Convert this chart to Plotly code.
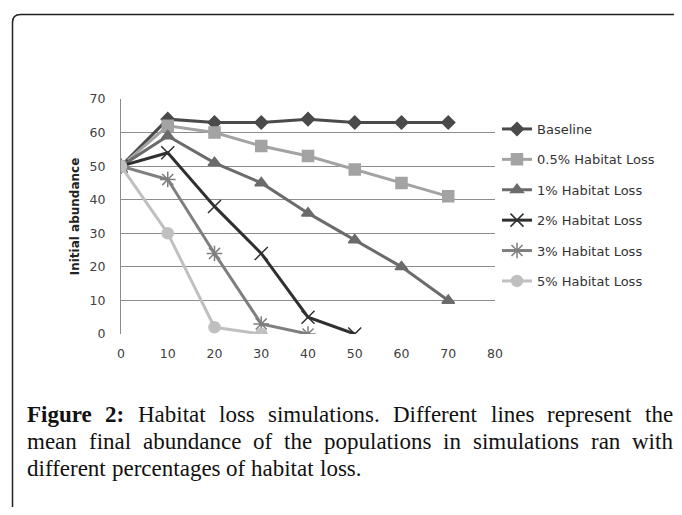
import plotly.graph_objects as go

x_vals = [0, 10, 20, 30, 40, 50, 60, 70]
baseline = [50, 64, 63, 63, 64, 63, 63, 63]
loss_05 = [50, 62, 60, 56, 53, 49, 45, 41]
loss_1 = [50, 59, 51, 45, 36, 28, 20, 10]
loss_2 = [50, 54, 38, 24, 5, 0]
loss_3 = [50, 46, 24, 3, 0]
loss_5 = [50, 30, 2, 0]

series_names = ["Baseline", "0.5% Habitat Loss", "1% Habitat Loss",
                "2% Habitat Loss", "3% Habitat Loss", "5% Habitat Loss"]
series_vals = [baseline, loss_05, loss_1, loss_2, loss_3, loss_5]
colors = ["#4a4a4a", "#a3a3a3", "#6b6b6b", "#303030", "#7f7f7f", "#c0c0c0"]
symbols = ["diamond", "square", "triangle-up", "x-thin-open", "asterisk-open", "circle"]
sizes = [10, 11, 11, 13, 13, 11]

caption_bold = "Figure 2:"
caption_lines = [
    "Figure 2: Habitat loss simulations. Different lines represent the",
    "mean final abundance of the populations in simulations ran with",
    "different percentages of habitat loss.",
]
caption_justify = [True, True, False]

# Times / Liberation Serif advance widths (per 1000 em) for justification
REG = dict(a=444, b=500, c=444, d=500, e=444, f=333, g=500, h=500, i=278, j=278,
           k=500, l=278, m=778, n=500, o=500, p=500, q=500, r=333, s=389, t=278,
           u=500, v=500, w=722, x=500, y=500, z=444, D=722, H=722, F=556)
REG.update({" ": 250, ".": 250, ":": 278, "2": 500})
BOLD = dict(F=611, i=278, g=500, u=556, r=444, e=444)
BOLD.update({"2": 500, ":": 333, " ": 250})

CAP_SIZE = 23
CAP_FONT = "Liberation Serif"

def word_width(w, bold):
    tbl = BOLD if bold else REG
    return sum(tbl.get(ch, 500) for ch in w) * CAP_SIZE / 1000.0

OFF = 8  # default page body margin
W, H = 682 - 2 * OFF, 515 - 2 * OFF
L = 121 - OFF
T = 99 - OFF
R = W - (495 - OFF)
B = H - (334 - OFF)
pw, ph = W - L - R, H - T - B

def px(xp):
    return (xp - OFF - L) / pw

def py(yp):
    return (H - B - (yp - OFF)) / ph

fig = go.Figure()
for i, (name, vals) in enumerate(zip(series_names, series_vals)):
    fig.add_trace(go.Scatter(
        x=x_vals[:len(vals)], y=vals, name=name, mode="lines+markers",
        legendgroup=name,
        line=dict(color=colors[i], width=3),
        marker=dict(symbol=symbols[i], size=sizes[i], color=colors[i],
                    line=dict(color=colors[i], width=1.5)),
    ))

xl, yt = px(12.5), py(14.5)
xr, yb = px(720), py(560)
dx, dy = 8 / pw, 8 / ph
border_path = (f"M {xl},{yb} L {xl},{yt - dy} Q {xl},{yt} {xl + dx},{yt} "
               f"L {xr},{yt}")

annotations = []
X0, X1 = 25.0, 671.0
bold_words = set(caption_bold.split())
for k, (line, just, yy) in enumerate(zip(caption_lines, caption_justify, [414, 441, 468])):
    words = line.split()
    isb = [k == 0 and j < 2 and w in bold_words for j, w in enumerate(words)]
    widths = [word_width(w, b) for w, b in zip(words, isb)]
    space = 250 * CAP_SIZE / 1000.0
    if just and len(words) > 1:
        space = (X1 - X0 - sum(widths)) / (len(words) - 1)
    xx = X0
    for w, b, wd in zip(words, isb, widths):
        annotations.append(dict(
            text=f"<b>{w}</b>" if b else w, x=px(xx), y=py(yy),
            xref="paper", yref="paper", xanchor="left", yanchor="middle",
            showarrow=False,
            font=dict(family=CAP_FONT, size=CAP_SIZE, color="#111111"),
        ))
        xx += wd + space

fig.update_layout(
    width=W, height=H,
    margin=dict(l=L, r=R, t=T, b=B, autoexpand=False),
    paper_bgcolor="white", plot_bgcolor="white",
    font=dict(family="DejaVu Sans", size=12, color="#404040"),
    showlegend=True,
    legend=dict(x=px(497), y=py(114), xanchor="left", yanchor="top",
                tracegroupgap=10.5, font=dict(family="DejaVu Sans", size=13, color="#333333"),
                itemwidth=30, bgcolor="rgba(0,0,0,0)"),
    xaxis=dict(range=[0, 80], tickvals=list(range(0, 81, 10)),
               showgrid=False, zeroline=False, showline=False,
               ticks="", ticklabelstandoff=10, fixedrange=True,
               tickfont=dict(size=12.5)),
    yaxis=dict(range=[0, 70], tickvals=list(range(0, 71, 10)),
               showgrid=True, gridcolor="#8c8c8c", gridwidth=1,
               zeroline=False, showline=True, linecolor="#8c8c8c", linewidth=1,
               ticks="", ticklabelstandoff=12, tickfont=dict(size=12.5),
               title=dict(text="<b>Initial abundance</b>", standoff=7,
                          font=dict(family="DejaVu Sans", size=12, color="#222222")),
               fixedrange=True),
    shapes=[dict(type="path", path=border_path, xref="paper", yref="paper",
                 line=dict(color="#222222", width=1.5), layer="above")],
    annotations=annotations,
)

fig.write_html("out.html")
